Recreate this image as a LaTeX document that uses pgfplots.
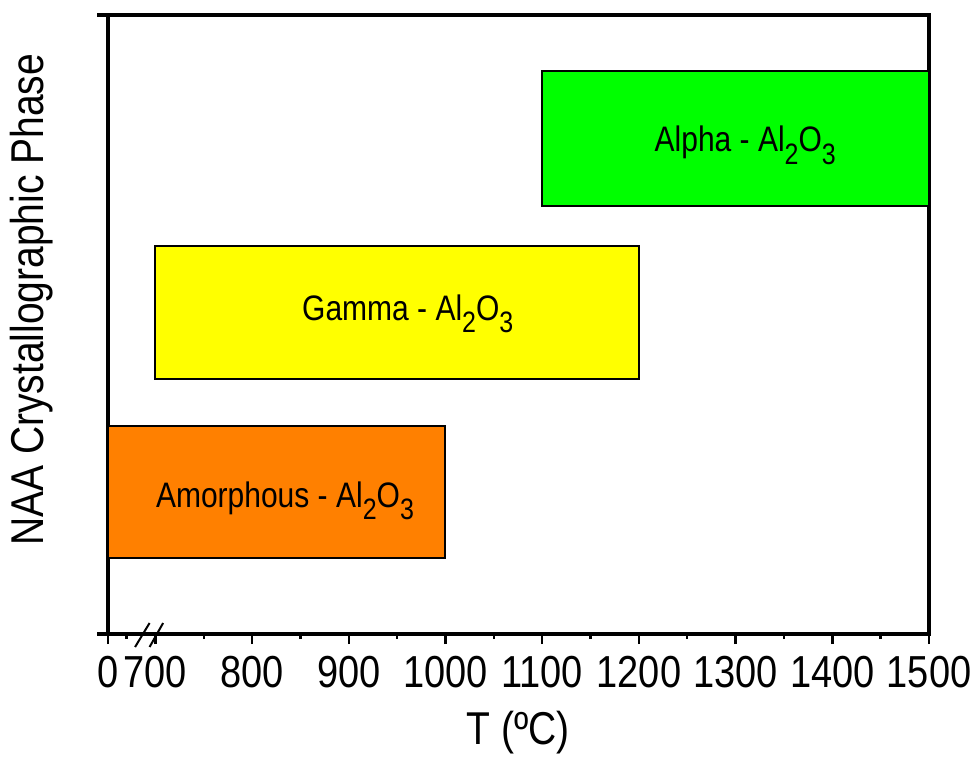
\documentclass[border=0pt]{standalone}
\usepackage{pgfplots}
\pgfplotsset{compat=1.18}
\usepackage{graphicx}
\usepackage{fontspec}
\setmainfont{Liberation Sans}

\definecolor{amorph}{HTML}{FF8000}
\definecolor{gammac}{HTML}{FFFF00}
\definecolor{alphac}{HTML}{00FF00}

% tall lettering
\newcommand{\st}[1]{\scalebox{1}[1.18]{#1}}
\newcommand{\sub}[1]{\raisebox{-5.3pt}{\fontsize{12.5}{14}\selectfont #1}}
\newcommand{\alox}{Al\sub{2}O\sub{3}}

\begin{document}
\begin{tikzpicture}
\begin{axis}[
  at={(0,0)}, anchor=south west,
  scale only axis,
  width=410.5pt, height=309.5pt,
  xmin=651, xmax=1500,
  ymin=0, ymax=6.19,
  clip=false,
  axis line style={line width=1.6pt},
  xtick={651,700,800,900,1000,1100,1200,1300,1400,1500},
  xticklabels={\st{0},\st{700},\st{800},\st{900},\st{1000},\st{1100},\st{1200},\st{1300},\st{1400},\st{1500}},
  minor xtick={670,750,850,950,1050,1150,1250,1350,1450},
  ytick=\empty,
  xtick pos=bottom,
  tick align=outside,
  major tick length=5pt,
  minor tick length=2.5pt,
  tick style={line width=1.2pt, black},
  xticklabel style={font=\fontsize{19}{22}\selectfont, anchor=base, yshift=-21.5pt},
  xlabel={\st{T (ºC)}},
  ylabel={\st{NAA Crystallographic Phase}},
  every axis x label/.style={at={(axis description cs:0.5,-0.179)}, anchor=base, font=\fontsize{19.5}{23}\selectfont},
  every axis y label/.style={at={(axis description cs:-0.0926,0.54)}, rotate=90, anchor=center, font=\fontsize{19.5}{23}\selectfont},
]
% phase ranges: temperature span (x) and band (y)
\addplot[draw=black, line width=1pt, fill=amorph] coordinates {(651,0.76) (1000,0.76) (1000,2.08) (651,2.08)} -- cycle;
\addplot[draw=black, line width=1pt, fill=gammac] coordinates {(700,2.55) (1200,2.55) (1200,3.88) (700,3.88)} -- cycle;
\addplot[draw=black, line width=1pt, fill=alphac] coordinates {(1100,4.28) (1500,4.28) (1500,5.63) (1100,5.63)} -- cycle;

\node[anchor=base, font=\fontsize{15}{18}\selectfont] at (axis cs:834,1.27) {\st{Amorphous - \alox}};
\node[anchor=base, font=\fontsize{15}{18}\selectfont] at (axis cs:961,3.14) {\st{Gamma - \alox}};
\node[anchor=base, font=\fontsize{15}{18}\selectfont] at (axis cs:1310,4.82) {\st{Alpha - \alox}};

% axis break marks
\draw[line width=1pt] (axis cs:679,-0.13) -- (axis cs:694,0.11);
\draw[line width=1pt] (axis cs:694,-0.13) -- (axis cs:708,0.11);
\end{axis}
% frame overhang on the left
\draw[line width=1.6pt] (-5.5pt,0) -- (0,0);
\draw[line width=1.6pt] (-5.5pt,309.5pt) -- (0,309.5pt);
\pgfresetboundingbox
\path (-54pt,-61pt) rectangle (434.5pt,317pt);
\end{tikzpicture}
\end{document}
